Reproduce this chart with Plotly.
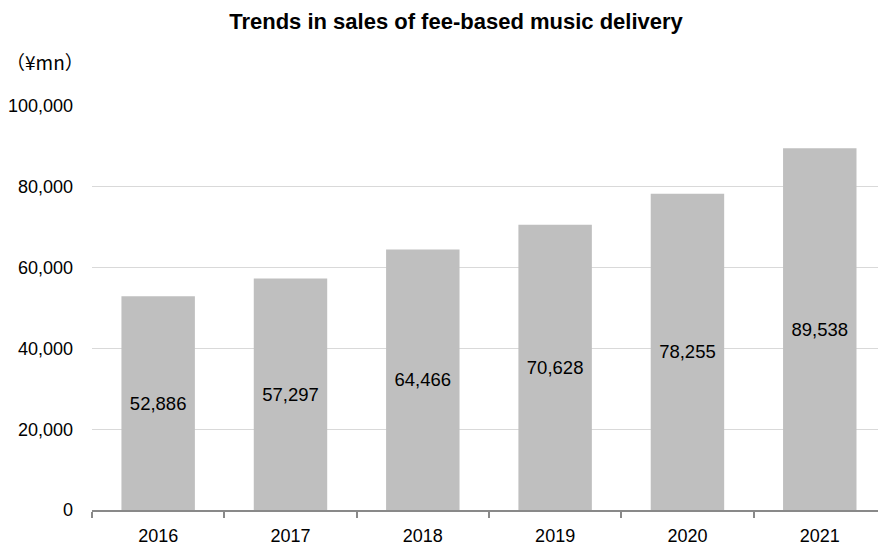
import plotly.graph_objects as go

years = ["2016", "2017", "2018", "2019", "2020", "2021"]
sales = [52886, 57297, 64466, 70628, 78255, 89538]
labels = ["52,886", "57,297", "64,466", "70,628", "78,255", "89,538"]
y_ticks = [0, 20000, 40000, 60000, 80000, 100000]
y_ticktext = ["0", "20,000", "40,000", "60,000", "80,000", "100,000"]

font_main = "Liberation Sans, Arial, sans-serif"

fig = go.Figure(go.Bar(
    x=years, y=sales, text=labels,
    textposition="inside", insidetextanchor="middle",
    textfont=dict(family=font_main, size=18.5, color="#000000"),
    marker=dict(color="#bfbfbf", line=dict(width=0)),
    width=0.555,
    hoverinfo="skip",
))

fig.update_layout(
    width=878, height=545,
    margin=dict(l=92, r=0, t=106, b=35),
    paper_bgcolor="white", plot_bgcolor="white",
    showlegend=False,
    title=dict(text="<b>Trends in sales of fee-based music delivery</b>",
               x=(456) / 878, xanchor="center", y=1 - 21 / 545, yanchor="middle",
               font=dict(family=font_main, size=22, color="#000000")),
    xaxis=dict(
        type="category", range=[-0.5, 5.44],
        showline=True, linecolor="#898989", linewidth=2,
        ticks="outside", tickson="boundaries", ticklen=6, tickwidth=2, tickcolor="#898989",
        tickfont=dict(family=font_main, size=18, color="#000000"),
        ticklabelstandoff=8,
        showgrid=False, automargin=False,
    ),
    yaxis=dict(
        range=[0, 100000], tickvals=y_ticks, ticktext=y_ticktext,
        showgrid=True, gridcolor="#d9d9d9", gridwidth=1,
        zeroline=False, showline=False, ticks="", ticklabelstandoff=18,
        tickfont=dict(family=font_main, size=18, color="#000000"),
        automargin=False,
    ),
    annotations=[dict(
        text="（¥mn）", xref="paper", yref="paper", x=-88 / 786, y=1 + 44 / 404,
        xanchor="left", yanchor="middle", showarrow=False,
        font=dict(family="Noto Sans CJK JP, sans-serif", size=19, color="#000000"),
    )],
)

fig.write_html("out.html")
